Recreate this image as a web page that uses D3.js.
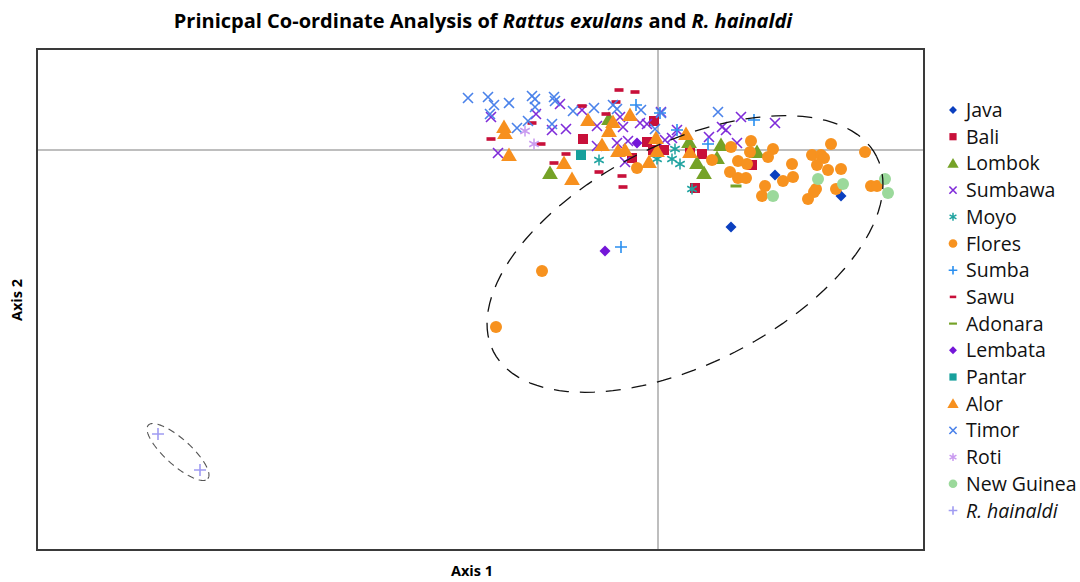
<!DOCTYPE html>
<meta charset="utf-8">
<head>
  <style>
    body { margin: 0; background: #fff; }
    .title { font-family: "Open Sans", sans-serif; font-weight: bold; font-size: 20px; }
    .axlab { font-family: "Open Sans", sans-serif; font-weight: bold; font-size: 14.5px; }
    .leg { font-family: "Open Sans", sans-serif; font-size: 19.5px; fill: #111; }
  </style>
  <script src="https://d3js.org/d3.v7.min.js"></script>
</head>
<body>
  <svg width="1080" height="582"></svg>
  <script>

    // PCoA scores (arbitrary axis units)
    var java = [[1.17,-0.25],[1.83,-0.46],[0.73,-0.77]];
    var bali = [[-0.75,0.11],[-0.04,0.29],[-0.11,0.08],[-0.05,0.00],[0.06,0.00],[-0.26,-0.08],[0.32,-0.01],[0.44,-0.04],[0.94,-0.15],[0.37,-0.38]];
    var lombok = [[-1.08,-0.23],[-0.49,0.31],[0.31,0.08],[0.63,0.05],[0.99,-0.02],[0.39,-0.13],[0.59,-0.08],[0.46,-0.23]];
    var sumbawa = [[-1.67,0.33],[-0.98,0.46],[-1.22,0.36],[-1.06,0.20],[-0.92,0.21],[-1.60,-0.03],[-0.76,0.40],[-0.61,0.24],
      [-0.38,0.33],[-0.35,0.23],[-0.18,0.27],[-0.11,0.26],[-0.41,0.07],[-0.30,0.09],[-0.61,0.04],[-0.33,-0.12],[0.07,0.10],
      [0.14,0.12],[0.19,0.20],[0.83,0.33],[0.64,0.23],[0.68,0.20],[0.51,0.13],[1.17,0.27],[0.79,0.07],[0.03,0.38]];
    var moyo = [[-0.59,-0.10],[-0.01,-0.09],[0.14,-0.09],[0.22,-0.14],[0.17,0.01],[0.34,-0.39]];
    var flores = [[-1.16,-1.21],[-1.62,-1.77],[-0.21,-0.18],[0.54,-0.10],[0.73,0.03],[0.93,0.09],[0.92,-0.02],[1.15,0.01],
      [1.10,-0.07],[0.80,-0.11],[0.89,-0.14],[0.72,-0.22],[0.80,-0.28],[0.88,-0.28],[1.07,-0.36],[1.04,-0.46],[1.25,-0.31],
      [1.35,-0.27],[1.34,-0.14],[1.54,-0.05],[1.63,-0.05],[1.66,-0.08],[1.59,-0.15],[1.73,0.06],[1.70,-0.20],[1.83,-0.19],
      [1.58,-0.39],[1.56,-0.42],[1.50,-0.49],[1.78,-0.39],[2.07,-0.02],[2.13,-0.36],[2.19,-0.36]];
    var sumba = [[-0.22,0.45],[0.02,0.37],[0.19,0.20],[0.50,0.06],[0.96,0.30],[-0.37,-0.97]];
    var sawu = [[-1.26,0.27],[-1.67,0.11],[-1.17,0.06],[-0.92,-0.04],[-1.04,-0.13],[-0.39,0.60],[-0.23,0.58],[-0.42,0.48],
      [-0.76,0.44],[-0.52,0.36],[-0.59,-0.22],[-0.36,-0.26],[-0.35,-0.37]];
    var adonara = [[0.78,-0.36]];
    var lembata = [[-0.21,0.07],[-0.53,-1.01]];
    var pantar = [[-0.77,-0.05]];
    var alor = [[-1.54,0.23],[-1.53,0.17],[-1.49,-0.05],[-0.94,-0.13],[-0.86,-0.29],[-0.70,0.30],[-0.49,0.19],[-0.45,0.28],
      [-0.28,0.35],[-0.56,0.05],[-0.40,-0.01],[-0.33,0.00],[-0.09,-0.12],[-0.01,-0.01],[0.28,0.16],[-0.02,0.12],[0.32,-0.02]];
    var timor = [[-1.90,0.52],[-1.70,0.53],[-1.64,0.45],[-1.49,0.47],[-1.26,0.54],[-1.23,0.51],[-1.23,0.43],[-1.04,0.53],
      [-1.03,0.49],[-0.85,0.39],[-1.68,0.36],[-1.41,0.22],[-1.30,0.29],[-1.06,0.26],[-0.64,0.42],[-0.45,0.45],[-0.41,0.41],
      [-0.17,0.40],[0.03,0.37],[-0.03,0.21],[0.60,0.38]];
    var roti = [[-1.33,0.19],[-1.24,0.06]];
    var newGuinea = [[1.60,-0.29],[1.85,-0.34],[1.15,-0.46],[2.27,-0.29],[2.30,-0.43]];
    var hainaldi = [[-5.00,-2.84],[-4.58,-3.20]];

    // confidence ellipses: [cx, cy, semi-major, semi-minor, angle deg]
    var exulansEllipse = [0.27, -1.04, 2.15, 1.10, 27];
    var hainaldiEllipse = [-4.80, -3.02, 0.40, 0.13, -42];

    var series = [
      {name: "Java", data: java, shape: "diamond", color: "#0b3fbf"},
      {name: "Bali", data: bali, shape: "square", color: "#c8103a"},
      {name: "Lombok", data: lombok, shape: "triangle", color: "#75a227"},
      {name: "Sumbawa", data: sumbawa, shape: "cross", color: "#7f2bd9"},
      {name: "Moyo", data: moyo, shape: "asterisk", color: "#1fa3a0"},
      {name: "Flores", data: flores, shape: "circle", color: "#f7921f"},
      {name: "Sumba", data: sumba, shape: "plus", color: "#2a8ff0"},
      {name: "Sawu", data: sawu, shape: "dash", color: "#c8103a"},
      {name: "Adonara", data: adonara, shape: "longdash", color: "#75a227"},
      {name: "Lembata", data: lembata, shape: "diamond", color: "#7416d8"},
      {name: "Pantar", data: pantar, shape: "square", color: "#17a09c"},
      {name: "Alor", data: alor, shape: "triangle", color: "#f7901e"},
      {name: "Timor", data: timor, shape: "cross", color: "#4a82ea"},
      {name: "Roti", data: roti, shape: "asterisk", color: "#c99af0"},
      {name: "New Guinea", data: newGuinea, shape: "circle", color: "#9bd99b"},
      {name: "R. hainaldi", data: hainaldi, shape: "plus", color: "#a09cf2", italic: true}
    ];

    var svg = d3.select("svg");

    var x = d3.scaleLinear().domain([-6.21, 2.66]).range([37, 924]);
    var y = d3.scaleLinear().domain([-4.00, 1.01]).range([550, 49]);

    // draws one marker; s = scale factor
    function marker(g, shape, color, s) {
      if (shape == "circle") {
        g.append("circle").attr("r", 6 * s).attr("fill", color);
      } else if (shape == "square") {
        g.append("rect").attr("x", -5 * s).attr("y", -5 * s).attr("width", 10 * s).attr("height", 10 * s).attr("fill", color);
      } else if (shape == "diamond") {
        var h = 5.5 * s;
        g.append("path").attr("d", "M0," + (-h) + "L" + h + ",0L0," + h + "L" + (-h) + ",0Z").attr("fill", color);
      } else if (shape == "triangle") {
        var a = 7.5 * s;
        g.append("path").attr("d", "M0," + (-a) + "L" + (a * 1.05) + "," + (a * 0.8) + "L" + (-a * 1.05) + "," + (a * 0.8) + "Z").attr("fill", color);
      } else if (shape == "cross") {
        var c = 5 * s;
        g.append("path").attr("d", "M" + (-c) + "," + (-c) + "L" + c + "," + c + "M" + (-c) + "," + c + "L" + c + "," + (-c))
          .attr("stroke", color).attr("stroke-width", 1.6).attr("fill", "none");
      } else if (shape == "plus") {
        var p = 6 * s;
        g.append("path").attr("d", "M" + (-p) + ",0L" + p + ",0M0," + (-p) + "L0," + p)
          .attr("stroke", color).attr("stroke-width", 1.6).attr("fill", "none");
      } else if (shape == "asterisk") {
        var r = 5.5 * s, k = r * 0.866;
        g.append("path").attr("d", "M0," + (-r) + "L0," + r + "M" + (-k) + "," + (-r / 2) + "L" + k + "," + (r / 2) + "M" + (-k) + "," + (r / 2) + "L" + k + "," + (-r / 2))
          .attr("stroke", color).attr("stroke-width", 1.5).attr("fill", "none");
      } else if (shape == "dash") {
        g.append("rect").attr("x", -4.5 * s).attr("y", -1.8 * s).attr("width", 9 * s).attr("height", 3.6 * s).attr("fill", color);
      } else if (shape == "longdash") {
        g.append("rect").attr("x", -5.5 * s).attr("y", -1.5 * s).attr("width", 11 * s).attr("height", 3 * s).attr("fill", color);
      }
    }

    // zero lines
    svg.append("line").attr("x1", x(0)).attr("x2", x(0)).attr("y1", y.range()[1]).attr("y2", y.range()[0])
      .attr("stroke", "#a8a8a8").attr("stroke-width", 1.5);
    svg.append("line").attr("x1", x.range()[0]).attr("x2", x.range()[1]).attr("y1", y(0)).attr("y2", y(0))
      .attr("stroke", "#a8a8a8").attr("stroke-width", 1.5);

    // points
    series.forEach(function(sr) {
      svg.append("g").selectAll("g")
        .data(sr.data)
        .enter().append("g")
        .attr("transform", function(d) { return "translate(" + x(d[0]) + "," + y(d[1]) + ")"; })
        .each(function() { marker(d3.select(this), sr.shape, sr.color, 1); });
    });

    // ellipses
    function ellipsePts(e) {
      var t = e[4] * Math.PI / 180, pts = [];
      for (var i = 0; i <= 120; i++) {
        var u = i / 120 * 2 * Math.PI;
        var ex = e[2] * Math.cos(u), ey = e[3] * Math.sin(u);
        pts.push([e[0] + ex * Math.cos(t) - ey * Math.sin(t), e[1] + ex * Math.sin(t) + ey * Math.cos(t)]);
      }
      return pts;
    }
    var line = d3.line().x(function(d) { return x(d[0]); }).y(function(d) { return y(d[1]); });
    svg.append("path").attr("d", line(ellipsePts(exulansEllipse)))
      .attr("fill", "none").attr("stroke", "#111").attr("stroke-width", 1.3).attr("stroke-dasharray", "15,11");
    svg.append("path").attr("d", line(ellipsePts(hainaldiEllipse)))
      .attr("fill", "none").attr("stroke", "#555").attr("stroke-width", 1.1).attr("stroke-dasharray", "7,5");

    svg.append("rect").attr("x", 37).attr("y", 49).attr("width", 887).attr("height", 501)
      .attr("fill", "none").attr("stroke", "#3a3a3a").attr("stroke-width", 2);

    // titles
    var title = svg.append("text").attr("class", "title").attr("x", 483).attr("y", 28).attr("text-anchor", "middle");
    title.append("tspan").text("Prinicpal Co-ordinate Analysis of ");
    title.append("tspan").attr("font-style", "italic").text("Rattus exulans");
    title.append("tspan").text(" and ");
    title.append("tspan").attr("font-style", "italic").text("R. hainaldi");

    svg.append("text").attr("class", "axlab").attr("x", 472).attr("y", 576).attr("text-anchor", "middle").text("Axis 1");
    svg.append("text").attr("class", "axlab").attr("transform", "translate(22,300) rotate(-90)")
      .attr("text-anchor", "middle").text("Axis 2");

    // legend
    var leg = svg.append("g").selectAll("g")
      .data(series)
      .enter().append("g")
      .attr("transform", function(d, i) { return "translate(953," + (110 + i * 26.7) + ")"; });
    leg.each(function(d) { marker(d3.select(this), d.shape, d.color, 0.72); });
    leg.append("text").attr("class", "leg").attr("x", 13).attr("y", 7)
      .attr("font-style", function(d) { return d.italic ? "italic" : null; })
      .text(function(d) { return d.name; });

  </script>
</body>
